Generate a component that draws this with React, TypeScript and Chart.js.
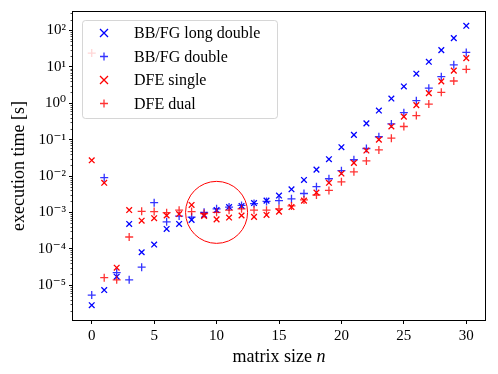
import React, { useEffect, useRef } from "react";
import { Chart, registerables } from "chart.js";

Chart.register(...registerables);

const sizes = Array.from({ length: 31 }, (_, i) => i);

const bbfgLongDouble = [
  2.8e-6, 7.3e-6, 1.7e-5, 4.8e-4, 8.0e-5, 1.3e-4, 3.5e-4, 4.8e-4, 6.2e-4, 8.5e-4,
  1.15e-3, 1.4e-3, 1.5e-3, 1.8e-3, 2.1e-3, 2.9e-3, 4.3e-3, 7.8e-3, 0.015, 0.029,
  0.062, 0.135, 0.28, 0.63, 1.35, 2.9, 6.5, 13.8, 29, 62, 135,
];
const bbfgDouble = [
  5.3e-6, 9.0e-3, 2.2e-5, 1.4e-5, 3.1e-5, 1.85e-3, 5.5e-4, 7.9e-4, 7.4e-4, 1.0e-3,
  1.25e-3, 1.4e-3, 1.55e-3, 1.75e-3, 2.0e-3, 2.1e-3, 2.35e-3, 3.3e-3, 5.1e-3, 8.4e-3,
  0.014, 0.028, 0.057, 0.12, 0.27, 0.55, 1.18, 2.6, 5.4, 11.4, 25,
];
const dfeSingle = [
  0.027, 6.5e-3, 3.0e-5, 1.16e-3, 5.9e-4, 6.9e-4, 8.2e-4, 9.0e-4, 1.6e-3, 8.0e-4,
  6.4e-4, 7.2e-4, 8.2e-4, 7.5e-4, 8.5e-4, 1.05e-3, 1.4e-3, 2.1e-3, 3.5e-3, 6.5e-3,
  0.0117, 0.023, 0.05, 0.1, 0.23, 0.43, 0.89, 1.9, 4.0, 7.9, 17.4,
];
const dfeDual = [
  24, 1.6e-5, 1.4e-5, 2.1e-4, 1.07e-3, 1.05e-3, 9.8e-4, 1.15e-3, 1.05e-3, 9.3e-4,
  1.0e-3, 1.15e-3, 1.25e-3, 1.15e-3, 1.15e-3, 1.25e-3, 1.5e-3, 2.2e-3, 3.0e-3, 4.0e-3,
  6.9e-3, 0.013, 0.026, 0.052, 0.11, 0.23, 0.46, 0.95, 2.0, 4.1, 8.6,
];

const seriesLabels = ["BB/FG long double", "BB/FG double", "DFE single", "DFE dual"];
const xTicks = [0, 5, 10, 15, 20, 25, 30];
const yTickExponents = [-5, -4, -3, -2, -1, 0, 1, 2];
const circleCenter = { x: 10, y: 1e-3 };

const FONT = "'Liberation Serif', 'DejaVu Serif', serif";
const BLUE = "rgba(0,0,255,1)";
const BLUE_P = "rgba(0,0,255,0.8)";
const RED = "rgba(255,0,0,1)";
const RED_P = "rgba(255,0,0,0.8)";

const SUP: Record<string, string> = {
  "-": "\u207B", "0": "\u2070", "1": "\u00B9", "2": "\u00B2", "3": "\u00B3",
  "4": "\u2074", "5": "\u2075", "6": "\u2076", "7": "\u2077", "8": "\u2078", "9": "\u2079",
};
const sup = (n: number) => String(n).split("").map((c) => SUP[c] || c).join("");

function drawMarker(ctx: CanvasRenderingContext2D, style: string, x: number, y: number, r: number, color: string) {
  ctx.save();
  ctx.strokeStyle = color;
  ctx.lineWidth = 1.3;
  ctx.beginPath();
  if (style === "crossRot") {
    ctx.moveTo(x - r, y - r); ctx.lineTo(x + r, y + r);
    ctx.moveTo(x - r, y + r); ctx.lineTo(x + r, y - r);
  } else {
    ctx.moveTo(x - r, y); ctx.lineTo(x + r, y);
    ctx.moveTo(x, y - r); ctx.lineTo(x, y + r);
  }
  ctx.stroke();
  ctx.restore();
}

const overlay = {
  id: "overlay",
  afterDatasetsDraw(chart: any) {
    const { ctx, chartArea: a, scales } = chart;
    const xs = scales.x, ys = scales.y;
    ctx.save();
    // circle
    ctx.beginPath();
    ctx.arc(xs.getPixelForValue(circleCenter.x), ys.getPixelForValue(circleCenter.y), 31, 0, Math.PI * 2);
    ctx.strokeStyle = "rgb(255,0,0)";
    ctx.lineWidth = 1;
    ctx.stroke();
    // frame
    ctx.strokeStyle = "#000";
    ctx.lineWidth = 1;
    ctx.strokeRect(Math.round(a.left) - 0.5, Math.round(a.top) - 0.5, Math.round(a.width) + 1, Math.round(a.height) + 1);
    // minor ticks
    ctx.beginPath();
    for (let e = -7; e <= 3; e++) {
      for (let m = 2; m <= 9; m++) {
        const v = m * Math.pow(10, e);
        if (v < ys.min || v > ys.max) continue;
        const py = Math.round(ys.getPixelForValue(v)) + 0.5;
        ctx.moveTo(a.left - 0.5, py);
        ctx.lineTo(a.left - 2.5, py);
      }
    }
    ctx.lineWidth = 0.7;
    ctx.stroke();
    // legend
    const lx = a.left + 9, ly = a.top + 8, lw = 195, lh = 98;
    ctx.beginPath();
    (ctx as any).roundRect(lx + 0.5, ly + 0.5, lw, lh, 3);
    ctx.fillStyle = "rgba(255,255,255,0.8)";
    ctx.fill();
    ctx.strokeStyle = "rgba(204,204,204,0.8)";
    ctx.lineWidth = 1;
    ctx.stroke();
    const styles = ["crossRot", "cross", "crossRot", "cross"];
    const colors = [BLUE, BLUE_P, RED, RED_P];
    ctx.font = `16px ${FONT}`;
    ctx.fillStyle = "#000";
    ctx.textBaseline = "middle";
    ctx.textAlign = "left";
    seriesLabels.forEach((lab, i) => {
      const ry = ly + 13 + i * 23.5;
      drawMarker(ctx, styles[i], lx + 22, ry, 4, colors[i]);
      ctx.fillStyle = "#000";
      ctx.fillText(lab, lx + 52, ry + 1);
    });
    // axis titles
    const TS = 18;
    ctx.textAlign = "left";
    ctx.textBaseline = "alphabetic";
    const t1 = "matrix size ";
    const t2 = "n";
    ctx.font = `${TS}px ${FONT}`;
    const w1 = ctx.measureText(t1).width;
    ctx.font = `italic ${TS}px ${FONT}`;
    const w2 = ctx.measureText(t2).width;
    const cx = (a.left + a.right) / 2;
    ctx.font = `${TS}px ${FONT}`;
    ctx.fillText(t1, cx - (w1 + w2) / 2, 362);
    ctx.font = `italic ${TS}px ${FONT}`;
    ctx.fillText(t2, cx - (w1 + w2) / 2 + w1, 362);
    ctx.save();
    ctx.translate(24, (a.top + a.bottom) / 2);
    ctx.rotate(-Math.PI / 2);
    ctx.font = `${TS}px ${FONT}`;
    ctx.textAlign = "center";
    ctx.fillText("execution time [s]", 0, 0);
    ctx.restore();
    ctx.restore();
  },
};

export default function App() {
  const ref = useRef<HTMLCanvasElement | null>(null);
  useEffect(() => {
    if (!ref.current) return;
    const mk = (label: string, data: number[], color: string, style: string, order: number) => ({
      label,
      data: sizes.map((n, i) => ({ x: n, y: data[i] })),
      showLine: false,
      pointStyle: style,
      pointRadius: 4,
      pointHoverRadius: 4,
      pointBorderWidth: 1.3,
      borderColor: color,
      backgroundColor: color,
      order,
    });
    const chart = new Chart(ref.current, {
      type: "scatter",
      data: {
        datasets: [
          mk(seriesLabels[0], bbfgLongDouble, BLUE, "crossRot", 4),
          mk(seriesLabels[1], bbfgDouble, BLUE_P, "cross", 3),
          mk(seriesLabels[2], dfeSingle, RED, "crossRot", 2),
          mk(seriesLabels[3], dfeDual, RED_P, "cross", 1),
        ] as any,
      },
      options: {
        animation: false,
        responsive: false,
        devicePixelRatio: 1,
        layout: { padding: { left: 0, right: 13, top: 12, bottom: 0 } },
        plugins: { legend: { display: false }, tooltip: { enabled: false } },
        scales: {
          x: {
            type: "linear",
            min: -1.5,
            max: 31.5,
            afterBuildTicks: (s: any) => { s.ticks = xTicks.map((v) => ({ value: v })); },
            afterFit: (s: any) => { s.height = 54; },
            grid: { drawOnChartArea: false, drawTicks: true, tickLength: 4, tickColor: "#000", tickWidth: 1 },
            border: { display: false },
            ticks: { color: "#000", font: { family: FONT, size: 15 }, padding: 3, maxRotation: 0, callback: (v: any) => String(v) },
          },
          y: {
            type: "logarithmic",
            min: Math.pow(10, -5.96),
            max: Math.pow(10, 2.51),
            afterBuildTicks: (s: any) => { s.ticks = yTickExponents.map((e) => ({ value: Math.pow(10, e) })); },
            afterFit: (s: any) => { s.width = 73; },
            grid: { drawOnChartArea: false, drawTicks: true, tickLength: 4, tickColor: "#000", tickWidth: 1 },
            border: { display: false },
            ticks: {
              color: "#000",
              font: { family: FONT, size: 15 },
              padding: 3,
              callback: (v: any) => "10" + sup(Math.round(Math.log10(Number(v)))),
            },
          },
        },
      },
      plugins: [overlay],
    });
    return () => chart.destroy();
  }, []);
  return (
    <div style={{ position: "absolute", left: 0, top: 0, width: 498, height: 374, background: "#fff" }}>
      <canvas ref={ref} width={498} height={374} />
    </div>
  );
}
